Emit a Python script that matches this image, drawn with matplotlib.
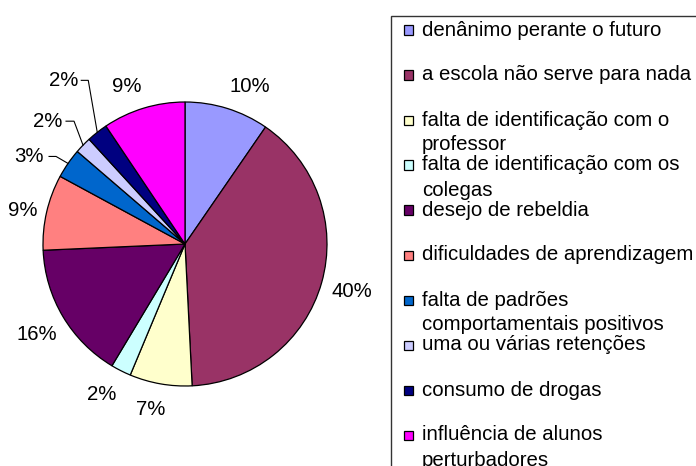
import numpy as np
import matplotlib
matplotlib.use("Agg")
import matplotlib.pyplot as plt
from matplotlib.patches import Rectangle

plt.rcParams['font.family'] = ['Liberation Sans', 'DejaVu Sans']

categories = [
    "denânimo perante o futuro",
    "a escola não serve para nada",
    "falta de identificação com o\nprofessor",
    "falta de identificação com os\ncolegas",
    "desejo de rebeldia",
    "dificuldades de aprendizagem",
    "falta de padrões\ncomportamentais positivos",
    "uma ou várias retenções",
    "consumo de drogas",
    "influência de alunos\nperturbadores",
]
values = [9.6, 39.6, 7.1, 2.3, 15.7, 8.6, 3.4, 1.9, 2.4, 9.4]
colors = ["#9999FF", "#993366", "#FFFFCC", "#CCFFFF", "#660066",
          "#FF8080", "#0066CC", "#CCCCFF", "#000080", "#FF00FF"]

# labels that use leader lines (index -> pixel offsets: corner, line start, text right)
leader = {
    6: ((-12, 7), (-19, 7), (-24, 7)),
    7: ((-9, 24), (-17, 24), (-21, 24)),
    8: ((-9, 52), (-16, 52), (-19, 52)),
}
# pixel nudges (right, down) for the plain percentage labels
nudge = {0: (14, 5), 1: (3, 1), 2: (-5, -2), 3: (-6, -2), 4: (-2, 3), 5: (4, 5), 9: (-9, 6)}

W_PX, H_PX = 696, 466
FS = 14.7
fig = plt.figure(figsize=(W_PX / 100, H_PX / 100), dpi=100)

cx, cy, R = 185, 244, 142
ax = fig.add_axes([(cx - R) / W_PX, (H_PX - cy - R) / H_PX, 2 * R / W_PX, 2 * R / H_PX])

wedges, texts, autotexts = ax.pie(
    values, colors=colors, startangle=90, counterclock=False,
    wedgeprops=dict(edgecolor="black", linewidth=0.9),
    autopct=lambda p: "%d%%" % int(round(p)), pctdistance=1.2,
    textprops=dict(fontsize=FS, color="black"))
ax.set_xlim(-1, 1)
ax.set_ylim(-1, 1)
ax.set_aspect("equal")
unit = 1.0 / R
for i, t in enumerate(autotexts):
    t.set_clip_on(False)
    if i in nudge:
        x, y = t.get_position()
        t.set_position((x + nudge[i][0] * unit, y - nudge[i][1] * unit))

for i, (corner, start, tright) in leader.items():
    w = wedges[i]
    mid = np.deg2rad((w.theta1 + w.theta2) / 2)
    ex, ey = np.cos(mid), np.sin(mid)
    autotexts[i].set_visible(False)
    xs = [ex, ex + corner[0] * unit, ex + start[0] * unit]
    ys = [ey, ey + corner[1] * unit, ey + start[1] * unit]
    ax.plot(xs, ys, color="black", lw=0.8, clip_on=False)
    ax.text(ex + tright[0] * unit, ey + tright[1] * unit, autotexts[i].get_text(),
            ha="right", va="center", fontsize=FS, color="black", clip_on=False)

# legend drawn manually
def fx(px):
    return px / W_PX

def fy(py):
    return 1 - py / H_PX

fig.patches.append(Rectangle((fx(391), fy(470)), fx(700) - fx(391), fy(16) - fy(470),
                             transform=fig.transFigure, fill=False,
                             edgecolor="#333333", linewidth=1.0))
y0, step, line_h, msz = 30, 45, 25, 9
for i, (lab, col) in enumerate(zip(categories, colors)):
    y = y0 + i * step
    fig.patches.append(Rectangle((fx(404), fy(y + msz / 2)), msz / W_PX, msz / H_PX,
                                 transform=fig.transFigure, facecolor=col,
                                 edgecolor="black", linewidth=0.9))
    for j, line in enumerate(lab.split("\n")):
        fig.text(fx(422), fy(y + j * line_h), line, ha="left", va="center",
                 fontsize=FS, color="black")

fig.savefig("out.png", dpi=100)
